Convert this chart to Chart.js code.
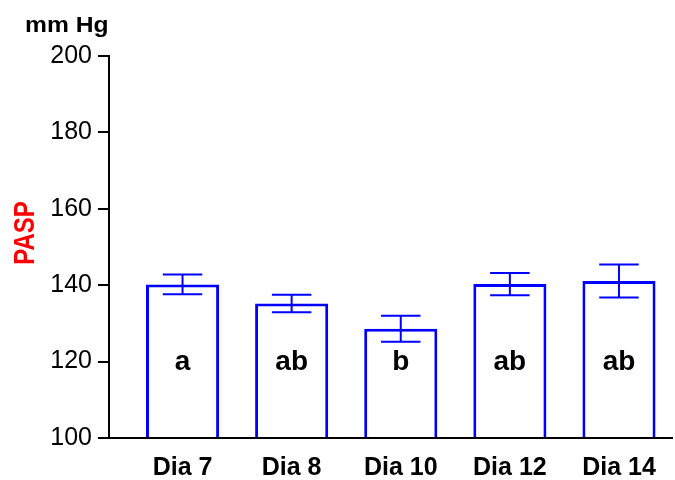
<!DOCTYPE html>
<html>
<head>
<meta charset="utf-8">
<script src="https://cdn.jsdelivr.net/npm/chart.js@4/dist/chart.umd.min.js"></script>
<style>
  html, body { margin: 0; padding: 0; background: #fff; }
  canvas { display: block; }
</style>
</head>
<body>
<canvas id="pasp" width="675" height="480"></canvas>
<script>
// values
const categories = ['Dia 7', 'Dia 8', 'Dia 10', 'Dia 12', 'Dia 14'];
const means = [140.2, 135.2, 128.6, 140.3, 141.1];
const errors = [2.6, 2.3, 3.4, 2.9, 4.3];
const letters = ['a', 'ab', 'b', 'ab', 'ab'];
const yMin = 100;
const yMax = 200;
const yStep = 20;
const letterLevel = 120;

const FONT = '"Liberation Sans", Arial, Helvetica, sans-serif';

// error bars + significance letters
const extras = {
    id: 'extras',
    afterDatasetsDraw(chart) {
        const ctx = chart.ctx;
        const y = chart.scales.y;
        const bars = chart.getDatasetMeta(0).data;
        // bars cover the x axis line, so put it back on top
        chart.scales.x.drawBorder();
        ctx.save();
        ctx.strokeStyle = '#0000ff';
        ctx.lineWidth = 2;
        bars.forEach(function(bar, i) {
            const hi = y.getPixelForValue(means[i] + errors[i]);
            const lo = y.getPixelForValue(means[i] - errors[i]);
            const half = bar.width * 0.27;
            ctx.beginPath();
            ctx.moveTo(bar.x, hi);
            ctx.lineTo(bar.x, lo);
            ctx.moveTo(bar.x - half, hi);
            ctx.lineTo(bar.x + half, hi);
            ctx.moveTo(bar.x - half, lo);
            ctx.lineTo(bar.x + half, lo);
            ctx.stroke();
        });
        ctx.fillStyle = '#000';
        ctx.font = 'bold 28px ' + FONT;
        ctx.textAlign = 'center';
        ctx.textBaseline = 'middle';
        bars.forEach(function(bar, i) {
            ctx.fillText(letters[i], bar.x, y.getPixelForValue(letterLevel) + 1);
        });
        ctx.restore();
    },
    afterDraw(chart) {
        const ctx = chart.ctx;
        ctx.save();
        // unit label, top left
        ctx.fillStyle = '#000';
        ctx.font = 'bold 22px ' + FONT;
        ctx.textAlign = 'left';
        ctx.textBaseline = 'alphabetic';
        ctx.translate(25, 32);
        ctx.scale(1.12, 1);
        ctx.fillText('mm Hg', 0, 0);
        ctx.restore();

        // rotated axis title
        ctx.save();
        ctx.fillStyle = '#ff0000';
        ctx.font = 'bold 24px ' + FONT;
        ctx.textAlign = 'center';
        ctx.textBaseline = 'alphabetic';
        ctx.translate(34, 233);
        ctx.scale(1.2, 1);
        ctx.rotate(-Math.PI / 2);
        ctx.fillText('PASP', 0, 0);
        ctx.restore();
    }
};

const ctx = document.getElementById('pasp').getContext('2d');
new Chart(ctx, {
    type: 'bar',
    data: {
        datasets: [{
            data: means.map((v, i) => ({ x: i, y: v })),
            backgroundColor: '#ffffff',
            borderColor: '#0000ff',
            borderWidth: 3,
            barPercentage: 0.67,
            categoryPercentage: 1
        }]
    },
    options: {
        responsive: false,
        animation: false,
        events: [],
        layout: { padding: { top: 56, right: 3, left: 0, bottom: 0 } },
        plugins: {
            legend: { display: false },
            tooltip: { enabled: false }
        },
        scales: {
            x: {
                type: 'linear',
                offset: false,
                min: -0.674,
                max: 4.486,
                afterBuildTicks: function(scale) {
                    scale.ticks = categories.map((c, i) => ({ value: i }));
                },
                afterFit: function(scale) { scale.height = 42; },
                grid: { display: false },
                border: { display: true, color: '#000', width: 2 },
                ticks: {
                    autoSkip: false,
                    maxRotation: 0,
                    padding: 7,
                    color: '#000',
                    font: { family: FONT, size: 25, weight: 'bold' },
                    callback: function(value) { return categories[value]; }
                }
            },
            y: {
                min: yMin,
                max: yMax,
                afterFit: function(scale) { scale.width = 109; },
                grid: {
                    drawOnChartArea: false,
                    drawTicks: true,
                    tickLength: 11,
                    color: '#000',
                    lineWidth: 2
                },
                border: { display: true, color: '#000', width: 2 },
                ticks: {
                    stepSize: yStep,
                    padding: 6,
                    color: '#000',
                    font: { family: FONT, size: 25 }
                }
            }
        }
    },
    plugins: [extras]
});
</script>
</body>
</html>
